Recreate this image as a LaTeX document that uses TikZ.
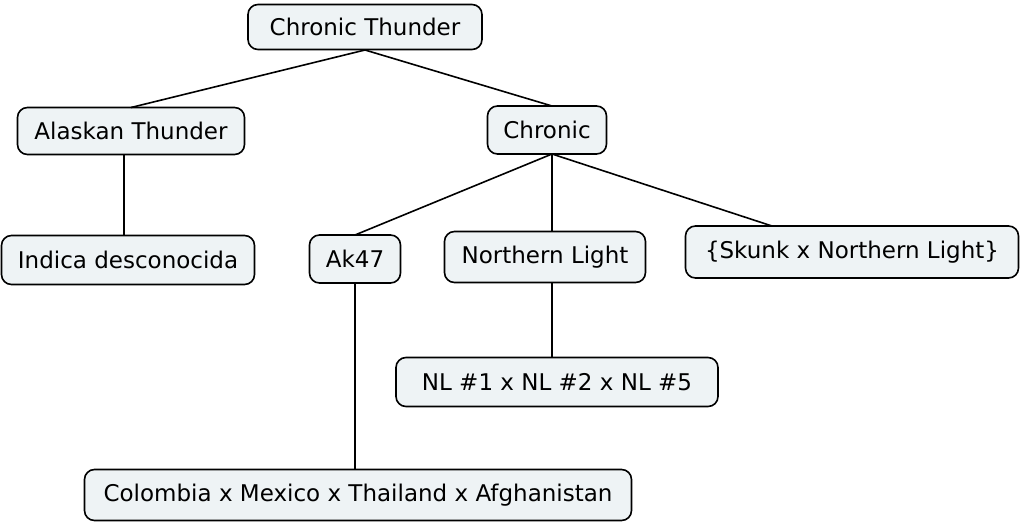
\documentclass[tikz,border=0pt]{standalone}
\usepackage{fontspec}
\setmainfont{DejaVu Sans}
\begin{document}
\begin{tikzpicture}[x=1pt,y=-1pt,
 box/.style={draw=black,line width=1.6pt,fill=boxfill,rounded corners=10pt,font=\fontsize{23}{26}\selectfont,inner sep=0pt,anchor=center},
 conn/.style={line width=1.6pt}]
\definecolor{boxfill}{HTML}{EEF3F5}
\useasboundingbox (0,0) rectangle (1024,527);
\node[box,minimum width=234,minimum height=45] (ct) at (365,27) {Chronic Thunder};
\node[box,minimum width=227,minimum height=47] (at) at (131,131) {Alaskan Thunder};
\node[box,minimum width=119,minimum height=48] (ch) at (547,130) {Chronic};
\node[box,minimum width=253,minimum height=49] (in) at (128,260) {Indica desconocida};
\node[box,minimum width=91,minimum height=48] (ak) at (355,259) {Ak47};
\node[box,minimum width=201,minimum height=51] (nl) at (545,257) {Northern Light};
\node[box,minimum width=333,minimum height=52] (sk) at (852,252) {\{Skunk x Northern Light\}};
\node[box,minimum width=322,minimum height=49] (n1) at (557,382) {NL \#1 x NL \#2 x NL \#5};
\node[box,minimum width=547,minimum height=51] (co) at (358,495) {Colombia x Mexico x Thailand x Afghanistan};
\coordinate (hub1) at (365,50);
\coordinate (hub2) at (552,154);
\draw[conn] (hub1) -- (131,107.5);
\draw[conn] (hub1) -- (552,106);
\draw[conn] (124,154.5) -- (124,235.5);
\draw[conn] (hub2) -- (355,235);
\draw[conn] (hub2) -- (552,231.5);
\draw[conn] (hub2) -- (772,226);
\draw[conn] (355,283) -- (355,469.5);
\draw[conn] (552,282.5) -- (552,357.5);
\end{tikzpicture}
\end{document}
